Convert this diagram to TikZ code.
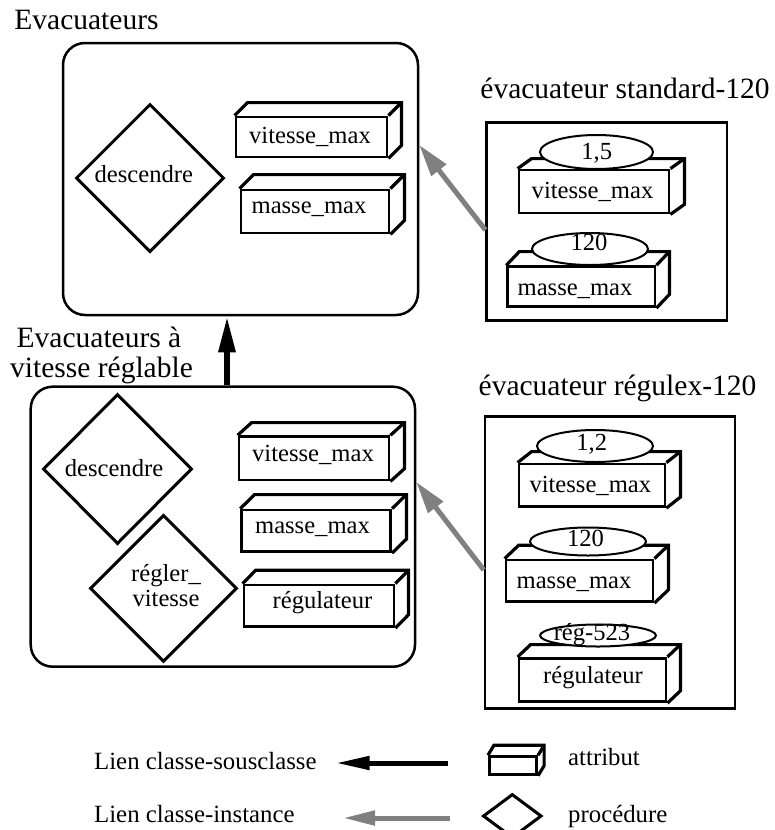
\documentclass[tikz,border=0pt]{standalone}
\usepackage{fontspec}
\setmainfont{Liberation Serif}
\usetikzlibrary{arrows.meta,shapes.geometric}
\definecolor{instgray}{RGB}{128,128,128}
\newcommand\TitleFont{\fontsize{29.5}{30}\selectfont}
\newcommand\LabelFont{\fontsize{24.6}{25}\selectfont}
\newcommand\LegendFont{\fontsize{24.8}{25}\selectfont}
\tikzset{
  classbox/.style={draw, line width=2.5pt, rounded corners=22pt, inner sep=0pt},
  instbox/.style={draw, line width=2.5pt, inner sep=0pt},
  attrfront/.style={draw, line width=2.8pt, inner sep=0pt},
  attredge/.style={line width=3.2pt, line join=miter},
  proc/.style={draw, shape=diamond, line width=3pt, inner sep=0pt},
  valell/.style={draw, shape=ellipse, line width=2pt, fill=white, inner sep=0pt},
  title/.style={font=\TitleFont, anchor=base, inner sep=0pt},
  lbl/.style={font=\LabelFont, anchor=base, inner sep=0pt},
  leg/.style={font=\LegendFont, anchor=base west, inner sep=0pt},
  subarrow/.style={line width=6pt, -{Triangle[length=36pt,width=16pt]}},
  instarrow/.style={line width=5pt, draw=instgray, -{Triangle[length=32pt,width=18pt]}},
  legsub/.style={line width=5pt, -{Triangle[length=34pt,width=13pt]}},
  leginst/.style={line width=5pt, draw=instgray, -{Triangle[length=32pt,width=14pt]}},
}
% name, left, top, right, bottom, dx, dy
\newcommand\attrbox[7]{%
  \node[attrfront, minimum width={#4-#2}, minimum height={#5-#3}] (#1) at ({(#2+#4)/2},{(#3+#5)/2}) {};
  \draw[attredge] (#1.north west) -- ++(#6,-#7) -- ([shift={(#6,-#7)}]#1.north east)
     -- ([shift={(#6,-#7)}]#1.south east) -- (#1.south east);
  \draw[attredge] (#1.north east) -- ++(#6,-#7);
}
\begin{document}
\begin{tikzpicture}[x=1pt,y=-1pt]
\fill[white] (0,0) rectangle (774,830);
\useasboundingbox (0,0) rectangle (774,830);

% ---------- class Evacuateurs ----------
\node[title] (t1) at (86.5,29.3) {Evacuateurs};
\node[classbox, minimum width=355, minimum height=272] (cls1) at (240.5,179) {};
\node[proc, minimum width=148, minimum height=148] (p1) at (150,178) {};
\node[lbl] (p1t) at (143.8,182) {descendre};
\attrbox{a1}{236}{117}{387}{157}{13}{13}
\node[lbl] (a1t) at (310,143.3) {vitesse\_max};
\attrbox{a2}{241}{190}{389}{233}{14}{14}
\node[lbl] (a2t) at (309,213.3) {masse\_max};

% ---------- instance standard-120 ----------
\node[title] (t2) at (625,98) {évacuateur standard-120};
\node[instbox, minimum width=240.3, minimum height=198] (std) at (606.85,221.7) {};
\attrbox{s1}{519}{170}{669}{213}{14}{10}
\node[lbl] (s1t) at (592.5,198.3) {vitesse\_max};
\node[valell, minimum width=113, minimum height=34] (e1) at (596.5,152) {};
\node[lbl] (e1t) at (596.7,159.3) {1,5};
\attrbox{s2}{507.7}{266.7}{655}{306.7}{13}{13.7}
\node[lbl] (s2t) at (575,295) {masse\_max};
\node[valell, minimum width=116, minimum height=32] (e2) at (590,249) {};
\node[lbl] (e2t) at (589,250) {120};

% ---------- class Evacuateurs a vitesse reglable ----------
\node[title] (t3a) at (99,347) {Evacuateurs à};
\node[title] (t3b) at (101.5,377) {vitesse réglable};
\node[classbox, minimum width=384.3, minimum height=280] (cls2) at (222.85,526.7) {};
\node[proc, minimum width=149, minimum height=150] (p2) at (117.5,469) {};
\node[lbl] (p2t) at (114,476.7) {descendre};
\node[proc, minimum width=147, minimum height=147] (p3) at (163.5,588.3) {};
\node[lbl] (p3a) at (166,581.7) {régler\_};
\node[lbl] (p3b) at (166,606.7) {vitesse};
\attrbox{b1}{239}{436.7}{389}{480}{14}{12.7}
\node[lbl] (b1t) at (313,461.7) {vitesse\_max};
\attrbox{b2}{241.7}{510}{390.7}{551.7}{14.3}{14}
\node[lbl] (b2t) at (312.5,533.3) {masse\_max};
\attrbox{b3}{244}{585}{394}{626.7}{13}{13.3}
\node[lbl] (b3t) at (322.5,608.3) {régulateur};

% ---------- instance regulex-120 ----------
\node[title] (t4) at (617.5,395) {évacuateur régulex-120};
\node[instbox, minimum width=250, minimum height=291.6] (reg) at (610,562.5) {};
\attrbox{r1}{519}{464}{665}{506.7}{14}{11}
\node[lbl] (r1t) at (590.3,492.7) {vitesse\_max};
\node[valell, minimum width=116, minimum height=32] (f1) at (595,446) {};
\node[lbl] (f1t) at (591.7,450.7) {1,2};
\attrbox{r2}{506}{560}{653}{601.7}{14}{13.3}
\node[lbl] (r2t) at (574,588.3) {masse\_max};
\node[valell, minimum width=116, minimum height=28] (f2) at (588,541.5) {};
\node[lbl] (f2t) at (585.5,546.7) {120};
\attrbox{r3}{519}{658.3}{666}{701.7}{13}{12.3}
\node[lbl] (r3t) at (593,683.3) {régulateur};
\node[valell, minimum width=116, minimum height=22] (f3) at (598,635.5) {};
\node[lbl] (f3t) at (592,640) {rég-523};

% ---------- links ----------
\coordinate (ax) at (227,0);
\draw[subarrow] (cls2.north -| ax) -- (cls1.south -| ax);
\draw[instarrow] ([yshift=-8.3pt]std.west) -- ([yshift=34pt]cls1.east);
\draw[instarrow] ([yshift=-7.5pt]reg.west) -- ([yshift=44.7pt]cls2.east);

% ---------- legend ----------
\node[leg] (l1) at (94,769.3) {Lien classe-sousclasse};
\node[leg] (l2) at (94,822) {Lien classe-instance};
\coordinate (lb1) at (448,763);
\coordinate (lb2) at (335.7,763);
\draw[legsub] (lb1) -- (lb2);
\coordinate (lg1) at (450,818);
\coordinate (lg2) at (343,818);
\draw[leginst] (lg1) -- (lg2);
\attrbox{la}{489.3}{756.7}{536.7}{774.3}{6}{10}
\node[leg] (l3) at (568,765.7) {attribut};
\node[proc, minimum width=58.7, minimum height=44] (lp) at (512.3,816) {};
\node[leg] (l4) at (568,822) {procédure};
\end{tikzpicture}
\end{document}
